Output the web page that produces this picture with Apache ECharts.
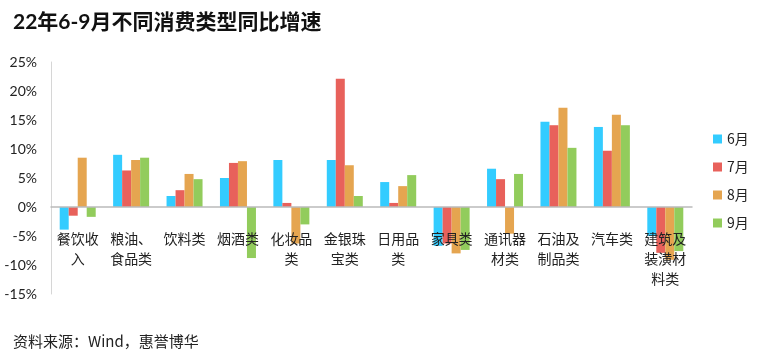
<!DOCTYPE html>
<html><head><meta charset="utf-8">
<script src="https://cdn.jsdelivr.net/npm/echarts@6/dist/echarts.min.js"></script>
<style>html,body{margin:0;padding:0;background:#fff;}#c{width:764px;height:356px;}</style>
</head><body><div id="c"></div>
<script>
const categories = ['餐饮收入','粮油、食品类','饮料类','烟酒类','化妆品类','金银珠宝类','日用品类','家具类','通讯器材类','石油及制品类','汽车类','建筑及装潢材料类'];
const seriesNames = ['6月','7月','8月','9月'];
const jun = [-3.9, 9.0, 1.9, 5.0, 8.1, 8.1, 4.3, -6.7, 6.6, 14.7, 13.8, -5.0];
const jul = [-1.5, 6.3, 2.9, 7.6, 0.7, 22.1, 0.7, -6.3, 4.8, 14.1, 9.7, -7.9];
const aug = [8.5, 8.1, 5.7, 7.9, -6.3, 7.2, 3.6, -8.0, -4.6, 17.1, 15.9, -9.1];
const sep = [-1.7, 8.5, 4.8, -8.8, -3.0, 1.9, 5.5, -7.4, 5.7, 10.2, 14.1, -7.6];
const colors = ['#33CCFF','#E8615B','#E5A550','#92CC5C'];
const yTicks = {min:-15, max:25, interval:5};

const cjk = '"Noto Sans CJK SC", sans-serif';
const gridTop = 62, gridBottom = 62, H = 356;
const gridH = H - gridTop - gridBottom;
const zeroOffset = -gridH * (0 - yTicks.min) / (yTicks.max - yTicks.min);
const chart = echarts.init(document.getElementById('c'));
const data = [jun, jul, aug, sep];
chart.setOption({
  animation:false,
  color: colors,
  title:[{text:'22年6-9月不同消费类型同比增速', left:8, top:7,
          textStyle:{fontSize:21, fontWeight:'bold', color:'#111', fontFamily:'Lato, "Noto Sans CJK SC", sans-serif'}},
         {text:'资料来源：Wind，惠誉博华', left:8, top:329,
          textStyle:{fontSize:15, fontWeight:'normal', color:'#222', fontFamily:'"Noto Sans CJK SC", sans-serif'}}],
  legend:{orient:'vertical', left:708, top:127, itemWidth:9, itemHeight:9, itemGap:14,
          icon:'rect', textStyle:{fontSize:14, color:'#222', fontFamily:cjk}, data: seriesNames},
  grid:{left:51, right:72, top:gridTop, bottom:gridBottom, containLabel:false, outerBoundsMode:'none'},
  xAxis:{type:'category', data:categories, offset: zeroOffset, z:10,
    axisLine:{onZero:false, lineStyle:{color:'#bbb', width:1.5}},
    axisTick:{show:false},
    axisLabel:{interval:0, margin:22, fontSize:14, lineHeight:20, color:'#222', fontFamily:cjk,
      formatter:function(v){let out=[];for(let i=0;i<v.length;i+=3)out.push(v.slice(i,i+3));return out.join('\n');}}},
  yAxis:{type:'value', min:yTicks.min, max:yTicks.max, interval:yTicks.interval,
    splitLine:{show:false},
    axisLine:{show:true, lineStyle:{color:'#d6d6d6', width:1}},
    axisTick:{show:false},
    axisLabel:{fontSize:14, color:'#222', margin:14, fontFamily:'Lato, sans-serif', formatter:'{value}%'}},
  series: seriesNames.map((n,i)=>({name:n, type:'bar', data:data[i], barWidth:9, barGap:'0%', z:2}))
});
</script></body></html>
